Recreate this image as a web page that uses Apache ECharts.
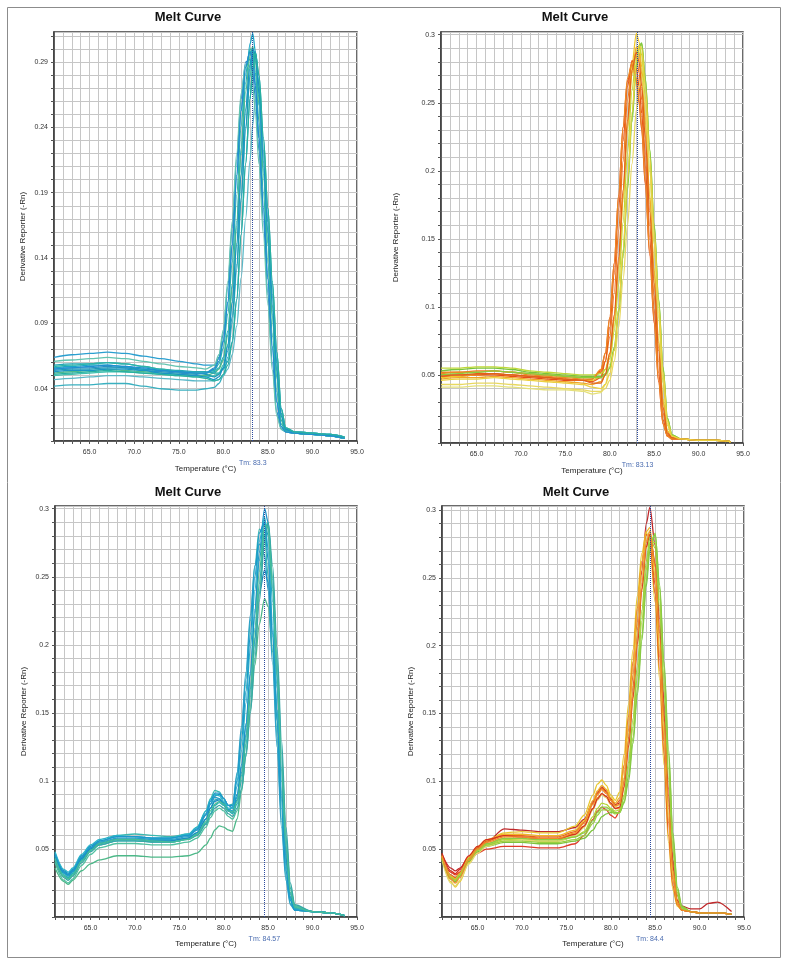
<!DOCTYPE html>
<html><head><meta charset="utf-8">
<script src="https://cdn.jsdelivr.net/npm/echarts@6/dist/echarts.min.js"></script>
<style>html,body{margin:0;padding:0;background:#fff}#c{width:788px;height:965px}</style>
</head><body><div id="c"></div>
<script>
// ---------- DATA ----------
const xTickLabels = ['65.0','70.0','75.0','80.0','85.0','90.0','95.0'];
const p1YTickLabels = ['0.04','0.09','0.14','0.19','0.24','0.29'];
const pYTickLabels = ['0.05','0.1','0.15','0.2','0.25','0.3'];
const tmValues = [83.3, 83.13, 84.57, 84.4];
const tmLabels = ['Tm: 83.3','Tm: 83.13','Tm: 84.57','Tm: 84.4'];

const p1Temps = [61,63,65,67,69,71,73,75,77,78,79,79.5,80,80.5,81,81.5,82,82.5,83,83.3,83.6,84,84.5,85,85.5,86,86.5,87,88,90,92,93.6];
const p1Curves = [
 [0.064,0.066,0.067,0.068,0.067,0.065,0.063,0.061,0.059,0.058,0.058,0.063,0.077,0.106,0.150,0.203,0.253,0.286,0.298,0.292,0.272,0.232,0.178,0.124,0.072,0.030,0.011,0.007,0.006,0.005,0.004,0.002],
 [0.042,0.043,0.043,0.044,0.044,0.042,0.040,0.039,0.039,0.040,0.041,0.044,0.050,0.064,0.090,0.131,0.183,0.238,0.279,0.295,0.297,0.272,0.222,0.168,0.112,0.060,0.021,0.009,0.007,0.006,0.005,0.003],
 [0.056,0.057,0.058,0.058,0.057,0.055,0.054,0.053,0.052,0.052,0.053,0.056,0.064,0.084,0.120,0.168,0.224,0.274,0.304,0.312,0.298,0.262,0.208,0.152,0.097,0.049,0.016,0.008,0.006,0.005,0.004,0.002],
 [0.055,0.056,0.056,0.057,0.056,0.054,0.053,0.052,0.051,0.052,0.056,0.064,0.082,0.118,0.163,0.215,0.262,0.290,0.292,0.282,0.262,0.222,0.168,0.112,0.060,0.022,0.009,0.007,0.006,0.005,0.004,0.002],
 [0.052,0.053,0.054,0.055,0.054,0.053,0.052,0.051,0.050,0.050,0.052,0.055,0.062,0.081,0.117,0.164,0.219,0.267,0.295,0.302,0.291,0.257,0.204,0.150,0.095,0.048,0.016,0.008,0.006,0.005,0.004,0.002],
 [0.058,0.059,0.059,0.060,0.059,0.057,0.055,0.054,0.053,0.053,0.052,0.052,0.055,0.061,0.076,0.108,0.158,0.212,0.262,0.285,0.297,0.280,0.232,0.178,0.122,0.068,0.025,0.010,0.007,0.006,0.005,0.003],
 [0.050,0.051,0.052,0.053,0.053,0.052,0.051,0.050,0.049,0.049,0.050,0.052,0.058,0.074,0.106,0.150,0.203,0.253,0.287,0.299,0.295,0.265,0.213,0.159,0.103,0.053,0.019,0.009,0.006,0.005,0.004,0.002],
 [0.054,0.055,0.055,0.056,0.056,0.055,0.054,0.053,0.052,0.051,0.049,0.051,0.056,0.069,0.095,0.135,0.186,0.240,0.280,0.296,0.298,0.272,0.222,0.168,0.112,0.060,0.021,0.009,0.007,0.006,0.005,0.003],
 [0.047,0.048,0.049,0.050,0.050,0.049,0.048,0.047,0.046,0.046,0.046,0.047,0.050,0.055,0.066,0.088,0.125,0.170,0.215,0.242,0.262,0.258,0.220,0.170,0.118,0.066,0.024,0.010,0.007,0.006,0.005,0.003],
 [0.057,0.058,0.059,0.060,0.059,0.057,0.055,0.053,0.052,0.052,0.054,0.059,0.071,0.097,0.137,0.188,0.241,0.281,0.300,0.298,0.282,0.244,0.190,0.136,0.082,0.038,0.013,0.008,0.006,0.005,0.004,0.002],
 [0.053,0.054,0.054,0.055,0.055,0.054,0.052,0.051,0.050,0.049,0.047,0.049,0.056,0.073,0.106,0.151,0.204,0.254,0.288,0.300,0.296,0.266,0.214,0.160,0.104,0.054,0.019,0.009,0.006,0.005,0.004,0.002],
 [0.061,0.062,0.063,0.064,0.063,0.061,0.059,0.057,0.056,0.055,0.058,0.066,0.085,0.122,0.168,0.220,0.266,0.288,0.285,0.272,0.252,0.212,0.158,0.104,0.054,0.019,0.009,0.007,0.006,0.005,0.004,0.002],
 [0.055,0.056,0.057,0.058,0.057,0.056,0.054,0.053,0.052,0.052,0.055,0.061,0.076,0.106,0.150,0.203,0.253,0.286,0.298,0.292,0.272,0.232,0.178,0.124,0.072,0.030,0.011,0.007,0.006,0.005,0.004,0.002],
 [0.051,0.052,0.053,0.054,0.053,0.052,0.051,0.050,0.049,0.048,0.046,0.047,0.051,0.058,0.075,0.108,0.158,0.212,0.262,0.285,0.297,0.280,0.232,0.178,0.122,0.068,0.025,0.010,0.007,0.006,0.005,0.003]
];
const p1Colors = ['#2a9fd0','#3ab0c0','#1aa7c8','#2b8fc4','#4cb88c','#22a6b8','#3fc0b0','#1d9ab8','#5ab8c8','#2db4a8','#1a95c5','#62c4b0','#1f8fd0','#28b0a0'];

const p2Temps = [61,63,65,67,69,71,73,75,77,78,79,79.5,80,80.5,81,81.5,82,82.5,83,83.3,83.6,84,84.5,85,85.5,86,86.5,87,88,90,92,93.6];
const p2Curves = [
 [0.049,0.049,0.050,0.050,0.049,0.048,0.047,0.046,0.046,0.047,0.053,0.066,0.092,0.132,0.182,0.232,0.266,0.278,0.266,0.250,0.230,0.190,0.138,0.088,0.045,0.014,0.005,0.003,0.003,0.002,0.002,0.001],
 [0.052,0.052,0.053,0.053,0.052,0.051,0.050,0.049,0.048,0.048,0.052,0.060,0.078,0.110,0.156,0.207,0.252,0.280,0.284,0.272,0.252,0.212,0.160,0.108,0.060,0.022,0.006,0.003,0.003,0.002,0.002,0.001],
 [0.048,0.049,0.050,0.051,0.050,0.049,0.048,0.047,0.046,0.046,0.049,0.054,0.066,0.092,0.132,0.183,0.236,0.278,0.301,0.295,0.276,0.238,0.182,0.128,0.076,0.032,0.009,0.004,0.003,0.002,0.002,0.001],
 [0.053,0.054,0.055,0.055,0.054,0.052,0.051,0.050,0.049,0.049,0.049,0.051,0.056,0.070,0.098,0.140,0.190,0.240,0.278,0.292,0.294,0.268,0.215,0.160,0.105,0.055,0.018,0.006,0.003,0.002,0.002,0.001],
 [0.041,0.041,0.042,0.042,0.041,0.040,0.039,0.039,0.038,0.036,0.037,0.043,0.058,0.085,0.126,0.177,0.229,0.270,0.289,0.285,0.268,0.230,0.176,0.122,0.071,0.029,0.008,0.004,0.003,0.002,0.002,0.001],
 [0.050,0.050,0.051,0.051,0.050,0.049,0.048,0.047,0.046,0.045,0.048,0.060,0.085,0.124,0.172,0.222,0.262,0.281,0.275,0.262,0.242,0.202,0.150,0.098,0.052,0.017,0.005,0.003,0.003,0.002,0.002,0.001],
 [0.055,0.055,0.056,0.056,0.055,0.053,0.052,0.051,0.050,0.050,0.051,0.054,0.062,0.082,0.116,0.162,0.213,0.259,0.287,0.292,0.285,0.253,0.200,0.146,0.092,0.044,0.013,0.005,0.003,0.002,0.002,0.001],
 [0.047,0.048,0.048,0.049,0.048,0.047,0.046,0.045,0.044,0.043,0.045,0.050,0.064,0.090,0.130,0.180,0.232,0.272,0.291,0.287,0.271,0.234,0.180,0.126,0.074,0.030,0.008,0.004,0.003,0.002,0.002,0.001],
 [0.043,0.043,0.044,0.044,0.043,0.042,0.041,0.040,0.039,0.038,0.038,0.040,0.046,0.060,0.085,0.120,0.160,0.205,0.245,0.262,0.270,0.250,0.200,0.148,0.096,0.048,0.014,0.005,0.003,0.002,0.002,0.001],
 [0.051,0.052,0.052,0.053,0.052,0.050,0.049,0.048,0.047,0.047,0.054,0.066,0.092,0.132,0.182,0.232,0.268,0.279,0.268,0.252,0.232,0.192,0.140,0.090,0.046,0.014,0.005,0.003,0.003,0.002,0.002,0.001],
 [0.050,0.051,0.052,0.053,0.052,0.051,0.050,0.049,0.048,0.048,0.048,0.050,0.055,0.068,0.095,0.136,0.186,0.236,0.276,0.291,0.293,0.268,0.216,0.161,0.106,0.056,0.018,0.006,0.003,0.002,0.002,0.001],
 [0.049,0.050,0.050,0.051,0.050,0.049,0.048,0.047,0.046,0.044,0.044,0.050,0.066,0.094,0.136,0.186,0.237,0.274,0.287,0.280,0.262,0.224,0.170,0.117,0.068,0.026,0.007,0.004,0.003,0.002,0.002,0.001],
 [0.046,0.047,0.047,0.048,0.047,0.046,0.045,0.044,0.043,0.041,0.040,0.043,0.051,0.068,0.098,0.142,0.193,0.243,0.280,0.292,0.290,0.262,0.210,0.156,0.102,0.052,0.016,0.005,0.003,0.002,0.002,0.001]
];
const p2Colors = ['#e54b1e','#f07a22','#f0c828','#78c43c','#e4e07a','#e85a1a','#c0d838','#f0a428','#e8d860','#ec8a24','#8ccc3c','#e0601c','#ecd040'];

const p3Temps = [61,62,62.5,63,64,65,66,68,70,72,74,76,77,78,78.5,79,79.5,80,80.5,81,81.5,82,82.5,83,83.5,84,84.6,85,85.5,86,86.5,87,87.5,88,90,92,93.6];
const p3Curves = [
 [0.045,0.032,0.030,0.033,0.043,0.050,0.054,0.057,0.057,0.056,0.056,0.058,0.062,0.072,0.080,0.086,0.087,0.084,0.079,0.078,0.088,0.110,0.140,0.178,0.222,0.262,0.292,0.280,0.232,0.168,0.100,0.046,0.015,0.006,0.004,0.003,0.001],
 [0.047,0.034,0.032,0.035,0.045,0.052,0.056,0.059,0.059,0.058,0.058,0.060,0.064,0.075,0.083,0.089,0.090,0.087,0.082,0.080,0.090,0.112,0.142,0.180,0.226,0.268,0.300,0.290,0.242,0.178,0.108,0.050,0.017,0.006,0.004,0.003,0.001],
 [0.036,0.026,0.024,0.027,0.034,0.039,0.042,0.045,0.045,0.044,0.044,0.045,0.047,0.053,0.058,0.064,0.067,0.066,0.064,0.063,0.072,0.092,0.120,0.152,0.185,0.215,0.234,0.228,0.195,0.145,0.088,0.040,0.013,0.005,0.004,0.003,0.001],
 [0.043,0.030,0.028,0.031,0.042,0.050,0.055,0.060,0.061,0.060,0.059,0.061,0.066,0.078,0.087,0.093,0.092,0.087,0.082,0.083,0.104,0.136,0.175,0.218,0.258,0.285,0.280,0.250,0.195,0.132,0.072,0.030,0.010,0.005,0.004,0.003,0.001],
 [0.046,0.033,0.031,0.034,0.044,0.051,0.055,0.058,0.058,0.057,0.057,0.059,0.064,0.075,0.083,0.088,0.087,0.083,0.078,0.081,0.106,0.140,0.180,0.222,0.258,0.274,0.266,0.240,0.186,0.125,0.066,0.027,0.009,0.005,0.004,0.003,0.001],
 [0.044,0.031,0.029,0.032,0.042,0.049,0.053,0.056,0.056,0.055,0.055,0.057,0.060,0.069,0.076,0.082,0.084,0.082,0.078,0.076,0.083,0.100,0.127,0.162,0.203,0.245,0.284,0.290,0.248,0.186,0.118,0.058,0.021,0.008,0.004,0.003,0.001],
 [0.045,0.033,0.031,0.034,0.043,0.050,0.054,0.057,0.057,0.056,0.056,0.058,0.062,0.072,0.080,0.085,0.086,0.083,0.078,0.077,0.086,0.106,0.134,0.168,0.205,0.238,0.255,0.246,0.208,0.152,0.092,0.043,0.014,0.006,0.004,0.003,0.001],
 [0.040,0.027,0.025,0.028,0.038,0.046,0.051,0.054,0.054,0.053,0.053,0.055,0.058,0.066,0.073,0.078,0.080,0.078,0.074,0.072,0.078,0.094,0.120,0.155,0.196,0.238,0.280,0.288,0.250,0.190,0.122,0.060,0.022,0.008,0.004,0.003,0.001],
 [0.048,0.035,0.033,0.036,0.046,0.053,0.057,0.060,0.059,0.058,0.058,0.061,0.066,0.078,0.086,0.090,0.089,0.085,0.080,0.080,0.096,0.122,0.157,0.198,0.240,0.276,0.294,0.270,0.215,0.152,0.086,0.038,0.013,0.006,0.004,0.003,0.001],
 [0.042,0.029,0.027,0.030,0.040,0.048,0.053,0.056,0.056,0.055,0.055,0.057,0.060,0.068,0.075,0.080,0.082,0.080,0.076,0.074,0.080,0.094,0.118,0.150,0.190,0.232,0.276,0.290,0.258,0.198,0.130,0.066,0.025,0.009,0.004,0.003,0.001],
 [0.046,0.033,0.031,0.034,0.044,0.051,0.056,0.059,0.059,0.058,0.058,0.060,0.065,0.076,0.085,0.091,0.091,0.087,0.082,0.082,0.100,0.130,0.166,0.208,0.250,0.282,0.290,0.262,0.206,0.144,0.080,0.034,0.012,0.005,0.004,0.003,0.001],
 [0.043,0.030,0.028,0.031,0.041,0.049,0.054,0.057,0.057,0.056,0.055,0.057,0.061,0.070,0.078,0.083,0.085,0.083,0.078,0.077,0.085,0.104,0.132,0.168,0.212,0.254,0.288,0.286,0.240,0.176,0.108,0.052,0.018,0.007,0.004,0.003,0.001]
];
const p3Colors = ['#1fa6c4','#1e90c8','#4cb888','#3ab8b0','#2aa0c8','#22b0b8','#1a8cc0','#50c0a0','#2ab4c8','#38a8a8','#1c98cc','#44bc98'];

const p4Temps = [61,62,62.5,63,64,65,66,68,70,72,74,76,77,78,78.5,79,79.5,80,80.5,81,81.5,82,82.5,83,83.5,84,84.4,85,85.5,86,86.5,87,87.5,88,89,90,91,92,93.6];
const p4Curves = [
 [0.044,0.030,0.028,0.032,0.043,0.050,0.054,0.058,0.058,0.057,0.057,0.061,0.067,0.080,0.088,0.091,0.088,0.083,0.080,0.080,0.095,0.125,0.160,0.200,0.240,0.272,0.282,0.262,0.214,0.152,0.090,0.040,0.013,0.005,0.004,0.003,0.003,0.003,0.002],
 [0.046,0.036,0.034,0.036,0.044,0.051,0.055,0.065,0.064,0.063,0.063,0.066,0.072,0.085,0.092,0.096,0.093,0.087,0.083,0.084,0.102,0.132,0.170,0.212,0.255,0.290,0.302,0.274,0.220,0.158,0.095,0.042,0.016,0.008,0.006,0.006,0.010,0.011,0.004],
 [0.043,0.033,0.031,0.033,0.041,0.047,0.050,0.052,0.052,0.051,0.051,0.054,0.060,0.072,0.078,0.081,0.079,0.075,0.073,0.078,0.102,0.138,0.178,0.218,0.255,0.278,0.280,0.245,0.192,0.130,0.070,0.028,0.010,0.005,0.004,0.003,0.003,0.003,0.002],
 [0.045,0.026,0.022,0.026,0.040,0.050,0.056,0.062,0.063,0.062,0.062,0.067,0.075,0.090,0.098,0.101,0.097,0.090,0.086,0.092,0.120,0.157,0.197,0.237,0.268,0.284,0.274,0.232,0.175,0.112,0.055,0.020,0.008,0.005,0.004,0.003,0.003,0.003,0.002],
 [0.043,0.028,0.026,0.030,0.041,0.048,0.052,0.055,0.055,0.054,0.054,0.056,0.058,0.064,0.069,0.074,0.076,0.077,0.077,0.077,0.084,0.100,0.128,0.164,0.204,0.244,0.270,0.282,0.245,0.188,0.124,0.062,0.022,0.008,0.004,0.003,0.003,0.003,0.002],
 [0.044,0.029,0.027,0.031,0.042,0.049,0.053,0.057,0.057,0.056,0.056,0.059,0.063,0.074,0.080,0.084,0.083,0.080,0.078,0.079,0.088,0.110,0.140,0.178,0.218,0.256,0.276,0.276,0.234,0.174,0.110,0.052,0.018,0.007,0.004,0.003,0.003,0.003,0.002],
 [0.045,0.031,0.029,0.033,0.044,0.051,0.056,0.060,0.060,0.059,0.059,0.063,0.070,0.084,0.091,0.095,0.092,0.086,0.082,0.086,0.112,0.148,0.188,0.228,0.262,0.282,0.278,0.238,0.182,0.120,0.060,0.023,0.009,0.005,0.004,0.003,0.003,0.003,0.002],
 [0.042,0.025,0.023,0.027,0.039,0.047,0.052,0.056,0.057,0.056,0.056,0.060,0.066,0.079,0.086,0.090,0.088,0.084,0.081,0.083,0.103,0.136,0.174,0.214,0.252,0.278,0.285,0.252,0.198,0.136,0.076,0.031,0.011,0.005,0.004,0.003,0.003,0.003,0.002],
 [0.044,0.030,0.028,0.032,0.043,0.050,0.054,0.058,0.058,0.057,0.057,0.059,0.062,0.071,0.077,0.081,0.081,0.079,0.077,0.077,0.085,0.104,0.132,0.168,0.208,0.248,0.274,0.283,0.242,0.184,0.120,0.058,0.020,0.007,0.004,0.003,0.003,0.003,0.002],
 [0.046,0.030,0.028,0.032,0.044,0.052,0.057,0.061,0.061,0.060,0.060,0.064,0.071,0.086,0.093,0.097,0.094,0.088,0.084,0.088,0.110,0.145,0.185,0.226,0.262,0.284,0.287,0.250,0.195,0.132,0.072,0.029,0.010,0.005,0.004,0.003,0.003,0.003,0.002],
 [0.047,0.034,0.032,0.035,0.045,0.052,0.057,0.060,0.059,0.058,0.058,0.061,0.067,0.080,0.087,0.091,0.089,0.084,0.080,0.081,0.096,0.126,0.162,0.202,0.242,0.273,0.282,0.260,0.210,0.148,0.086,0.037,0.012,0.005,0.004,0.003,0.003,0.003,0.002],
 [0.043,0.029,0.027,0.031,0.042,0.049,0.053,0.056,0.056,0.055,0.055,0.057,0.060,0.069,0.075,0.079,0.079,0.078,0.076,0.077,0.090,0.114,0.146,0.186,0.226,0.262,0.280,0.272,0.226,0.166,0.102,0.048,0.016,0.006,0.004,0.003,0.003,0.003,0.002],
 [0.045,0.028,0.025,0.029,0.042,0.050,0.055,0.059,0.059,0.058,0.058,0.062,0.069,0.083,0.090,0.094,0.091,0.086,0.082,0.083,0.100,0.130,0.166,0.206,0.246,0.276,0.284,0.258,0.206,0.144,0.082,0.034,0.011,0.005,0.004,0.003,0.003,0.003,0.002]
];
const p4Colors = ['#f0a030','#c0282a','#e03a28','#e8c830','#7cc43c','#b4d434','#e86020','#e4d870','#8ccc44','#f0b428','#d43020','#9cd040','#f08c28'];

// ---------- LAYOUT ----------
const panels = [
 {temps:p1Temps, curves:p1Curves, colors:p1Colors, yLabels:p1YTickLabels, fixed:2, yMax:0.313, grid:{left:54, top:32, width:303, height:409}, yGap:27, xGap:24, title:[188,17]},
 {temps:p2Temps, curves:p2Curves, colors:p2Colors, yLabels:pYTickLabels, fixed:0, yMax:0.302, grid:{left:441, top:32, width:302, height:411}, yGap:41, xGap:24, title:[575,17]},
 {temps:p3Temps, curves:p3Curves, colors:p3Colors, yLabels:pYTickLabels, fixed:0, yMax:0.302, grid:{left:55, top:506, width:302, height:411}, yGap:27, xGap:23, title:[188,492]},
 {temps:p4Temps, curves:p4Curves, colors:p4Colors, yLabels:pYTickLabels, fixed:0, yMax:0.303, grid:{left:442, top:506, width:302, height:411}, yGap:27, xGap:23, title:[576,492]}
];

const FONT = 'Liberation Sans, Arial, sans-serif';
const grids = [], xAxes = [], yAxes = [], series = [], graphics = [];

graphics.push({type:'rect', shape:{x:7.5, y:7.5, width:773, height:950}, style:{fill:'none', stroke:'#8c8c8c', lineWidth:1}, silent:true});

panels.forEach((p, i) => {
  grids.push(Object.assign({show:true, borderColor:'#3a3a3a', borderWidth:1.5, backgroundColor:'#fff'}, p.grid));
  xAxes.push({
    gridIndex:i, type:'value', min:61, max:95, interval:1,
    axisLine:{show:true, onZero:false, lineStyle:{color:'#3a3a3a', width:1.5}},
    axisTick:{show:true, length:3, lineStyle:{color:'#555'}},
    axisLabel:{fontSize:7, color:'#333', fontFamily:FONT, margin:8, showMinLabel:true, showMaxLabel:true,
      formatter:(v)=>{const s=v.toFixed(1); return xTickLabels.includes(s)?s:'';}},
    splitLine:{show:true, lineStyle:{color:'#c6c6c6', width:1}},
    name:'Temperature (°C)', nameLocation:'middle', nameGap:p.xGap,
    nameTextStyle:{fontSize:8, color:'#222', fontFamily:FONT}
  });
  yAxes.push({
    gridIndex:i, type:'value', min:0, max:p.yMax, interval:0.01,
    axisLine:{show:true, onZero:false, lineStyle:{color:'#3a3a3a', width:1.5}},
    axisTick:{show:true, length:3, lineStyle:{color:'#555'}},
    axisLabel:{fontSize:7, color:'#333', fontFamily:FONT, margin:6, showMaxLabel:false,
      formatter:(v)=>{
        if (Math.abs(v*100 - Math.round(v*100)) > 1e-6) return '';
        const s = p.fixed ? v.toFixed(p.fixed) : String(Math.round(v*100)/100);
        return p.yLabels.includes(s) ? s : '';
      }},
    splitLine:{show:true, lineStyle:{color:'#c6c6c6', width:1}},
    name:'Derivative Reporter (-Rn)', nameLocation:'middle', nameGap:p.yGap,
    nameTextStyle:{fontSize:8, color:'#222', fontFamily:FONT}
  });
  p.curves.forEach((c, k) => {
    series.push({
      type:'line', xAxisIndex:i, yAxisIndex:i, symbol:'none', showSymbol:false,
      smooth:0.3, smoothMonotone:'x', silent:true, animation:false,
      lineStyle:{width:1.3, color:p.colors[k % p.colors.length]},
      itemStyle:{color:p.colors[k % p.colors.length]},
      data:p.temps.map((t, j) => [t, c[j]])
    });
  });
  series.push({
    type:'line', xAxisIndex:i, yAxisIndex:i, data:[], silent:true, animation:false,
    markLine:{symbol:'none', silent:true, animation:false,
      lineStyle:{type:'dotted', color:'#2b4a9e', width:1},
      label:{show:true, position:'start', formatter:tmLabels[i], color:'#4a6cb0', fontSize:7, fontFamily:FONT, distance:19},
      data:[{xAxis:tmValues[i]}]}
  });
  graphics.push({type:'text', x:p.title[0], y:p.title[1], silent:true,
    style:{text:'Melt Curve', fontSize:13, fontWeight:'bold', fontFamily:FONT, fill:'#111', align:'center', verticalAlign:'middle'}});
});

const chart = echarts.init(document.getElementById('c'), null, {renderer:'canvas'});
chart.setOption({
  backgroundColor:'#fff', animation:false,
  grid:grids, xAxis:xAxes, yAxis:yAxes, series:series, graphic:graphics
});
</script></body></html>
